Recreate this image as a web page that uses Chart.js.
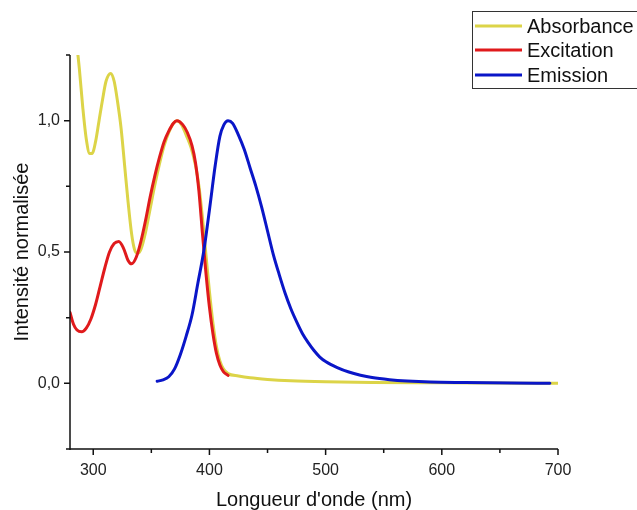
<!DOCTYPE html>
<html><head><meta charset="utf-8">
<script src="https://cdn.jsdelivr.net/npm/chart.js@4.4.1/dist/chart.umd.min.js"></script>
<style>html,body{margin:0;padding:0;background:#fff}#wrap{width:637px;height:510px}</style>
</head><body><div id="wrap"><canvas id="c" width="637" height="510"></canvas></div>
<script>
// Absorbance
const absX = [280, 284, 288, 291, 294, 297, 299, 302, 305, 308, 311, 315, 318, 321, 324, 327, 330, 333, 335.5, 338, 341, 345, 349, 353, 357, 361, 365, 369, 372, 376, 380, 384, 388, 391, 394, 397, 400, 403, 406, 409, 412, 416, 425, 435, 450, 470, 500, 540, 600, 650, 700];
const absY = [1.50, 1.36, 1.20, 1.05, 0.93, 0.875, 0.875, 0.92, 1.00, 1.08, 1.15, 1.18, 1.15, 1.07, 0.97, 0.83, 0.69, 0.57, 0.51, 0.495, 0.51, 0.575, 0.665, 0.755, 0.835, 0.905, 0.955, 0.99, 1.0, 0.985, 0.945, 0.90, 0.83, 0.75, 0.63, 0.49, 0.35, 0.23, 0.14, 0.085, 0.055, 0.037, 0.028, 0.021, 0.015, 0.010, 0.006, 0.003, 0.002, 0.001, 0.0];
// Excitation
const excX = [280, 283, 286, 290, 294, 298, 302, 306, 310, 314, 318, 322, 326, 330, 333, 337, 341, 345, 349, 353, 357, 361, 365, 369, 372, 377, 381, 385, 388, 391, 394, 397, 400, 403, 406, 409, 412, 416];
const excY = [0.27, 0.225, 0.203, 0.196, 0.21, 0.245, 0.30, 0.37, 0.44, 0.50, 0.532, 0.54, 0.515, 0.468, 0.455, 0.48, 0.54, 0.62, 0.71, 0.79, 0.86, 0.92, 0.96, 0.99, 1.0, 0.985, 0.955, 0.905, 0.84, 0.73, 0.57, 0.42, 0.29, 0.19, 0.115, 0.07, 0.045, 0.03];
// Emission
const emX = [355, 360, 365, 370, 375, 380, 385, 390, 395, 400, 405, 409, 412.5, 416, 420, 425, 430, 435, 440, 445, 450, 455, 460, 465, 470, 475, 480, 485, 490, 495, 500, 510, 520, 530, 540, 555, 570, 590, 620, 660, 693];
const emY = [0.008, 0.013, 0.025, 0.055, 0.11, 0.18, 0.26, 0.38, 0.50, 0.66, 0.83, 0.94, 0.985, 1.0, 0.99, 0.945, 0.89, 0.82, 0.75, 0.67, 0.58, 0.49, 0.415, 0.345, 0.285, 0.235, 0.19, 0.155, 0.125, 0.10, 0.083, 0.06, 0.043, 0.031, 0.022, 0.014, 0.009, 0.005, 0.003, 0.001, 0.0];

const seriesNames = ['Absorbance', 'Excitation', 'Emission'];
const xTickValues = [300, 400, 500, 600, 700];
const xMinorValues = [350, 450, 550, 650];
const yTickValues = [0, 0.5, 1.0];
const yMinorValues = [-0.25, 0.25, 0.75, 1.25];
const xTitle = "Longueur d'onde (nm)";
const yTitle = 'Intensité normalisée';

const colors = ['#dcd448', '#e01a1c', '#0a16c8'];
const FONT = '"Liberation Sans", Arial, sans-serif';

const toPts = (xs, ys) => xs.map((x, i) => ({x, y: ys[i]}));
const fmt = v => v.toFixed(1).replace('.', ',');

const deco = {
  id: 'deco',
  afterDatasetsDraw(chart) {
    const ctx = chart.ctx, a = chart.chartArea;
    const xs = chart.scales.x, ys = chart.scales.y;
    ctx.save();
    ctx.strokeStyle = '#111';
    ctx.lineWidth = 1.5;
    ctx.beginPath();
    ctx.moveTo(a.left, a.top); ctx.lineTo(a.left, a.bottom + 1);
    ctx.moveTo(a.left - 3, a.bottom); ctx.lineTo(a.right, a.bottom);
    xTickValues.forEach(v => { const p = xs.getPixelForValue(v); ctx.moveTo(p, a.bottom); ctx.lineTo(p, a.bottom + 6); });
    xMinorValues.forEach(v => { const p = xs.getPixelForValue(v); ctx.moveTo(p, a.bottom); ctx.lineTo(p, a.bottom + 4); });
    yTickValues.forEach(v => { const p = ys.getPixelForValue(v); ctx.moveTo(a.left, p); ctx.lineTo(a.left - 6, p); });
    yMinorValues.forEach(v => { const p = ys.getPixelForValue(v); ctx.moveTo(a.left, p); ctx.lineTo(a.left - 4, p); });
    ctx.stroke();
    // legend
    ctx.lineWidth = 1;
    ctx.strokeStyle = '#333';
    ctx.strokeRect(472.5, 11.5, 170, 77);
    const ly = [26, 50, 75];
    ctx.font = '20px ' + FONT;
    ctx.textBaseline = 'middle';
    ctx.fillStyle = '#111';
    chart.data.datasets.forEach((d, i) => {
      ctx.strokeStyle = d.borderColor;
      ctx.lineWidth = 3;
      ctx.beginPath(); ctx.moveTo(475, ly[i]); ctx.lineTo(522, ly[i]); ctx.stroke();
      ctx.fillText(d.label, 527, ly[i] + 1);
    });
    ctx.restore();
  }
};

new Chart(document.getElementById('c'), {
  type: 'line',
  data: {
    datasets: [
      {label: seriesNames[0], data: toPts(absX, absY), borderColor: colors[0], order: 3},
      {label: seriesNames[1], data: toPts(excX, excY), borderColor: colors[1], order: 2},
      {label: seriesNames[2], data: toPts(emX, emY), borderColor: colors[2], order: 1}
    ]
  },
  options: {
    responsive: false,
    animation: false,
    elements: {
      point: {radius: 0},
      line: {borderWidth: 3, cubicInterpolationMode: 'monotone', borderCapStyle: 'round', borderJoinStyle: 'round', fill: false}
    },
    layout: {padding: {top: 55, right: 79, bottom: 0, left: 0}},
    plugins: {legend: {display: false}, tooltip: {enabled: false}},
    scales: {
      x: {
        type: 'linear', min: 280, max: 700,
        grid: {display: false}, border: {display: false},
        afterBuildTicks: s => { s.ticks = xTickValues.map(v => ({value: v})); },
        afterFit: s => { s.height = 61; },
        ticks: {padding: 4, color: '#222', font: {family: FONT, size: 16}, callback: v => String(v), maxRotation: 0},
        title: {display: true, text: xTitle, color: '#111', font: {family: FONT, size: 20, lineHeight: 1}, padding: {top: 0, bottom: 0}}
      },
      y: {
        type: 'linear', min: -0.25, max: 1.25,
        grid: {display: false}, border: {display: false},
        afterBuildTicks: s => { s.ticks = yTickValues.map(v => ({value: v})); },
        afterFit: s => { s.width = 70; },
        ticks: {padding: 2, color: '#222', font: {family: FONT, size: 16}, callback: v => fmt(v)},
        title: {display: true, text: yTitle, color: '#111', font: {family: FONT, size: 20, lineHeight: 1}, padding: {top: 12, bottom: 0}}
      }
    }
  },
  plugins: [deco]
});
</script>
</body></html>
